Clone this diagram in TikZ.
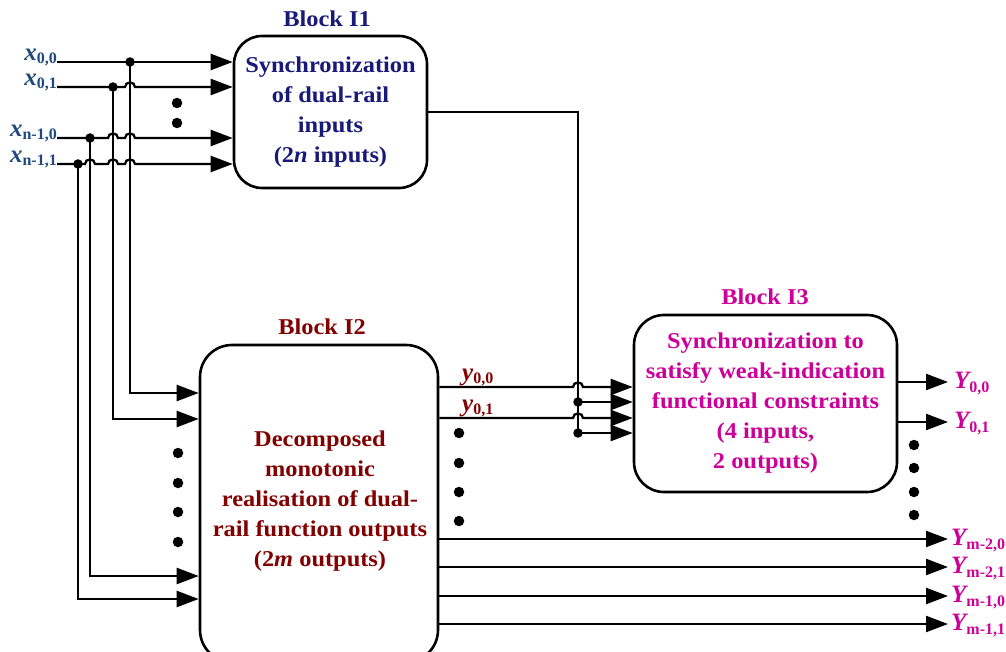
\documentclass[tikz,border=0pt]{standalone}
\usepackage{fontspec}
\setmainfont{Liberation Serif}
\newfontfamily\wide{Liberation Serif}[FakeStretch=1.08]
\usetikzlibrary{arrows.meta}
\definecolor{cI}{RGB}{25,25,120}
\definecolor{cII}{RGB}{130,0,0}
\definecolor{cIII}{RGB}{204,0,153}
\definecolor{cx}{RGB}{31,73,125}
\newcommand\sig[3]{{\fontsize{25}{25}\selectfont\bfseries\itshape #1}\raisebox{-#3}{\fontsize{16}{16}\selectfont\bfseries #2}}
\begin{document}
\begin{tikzpicture}[x=1pt,y=-1pt,
  wire/.style={line width=2.3pt},
  arr/.style={wire,-{Triangle[length=22pt,width=16pt]}},
  blk/.style={draw,line width=2.6pt,rounded corners=28pt,align=center,inner sep=0pt,
    font=\wide\fontsize{22.6}{30}\selectfont\bfseries},
  ttl/.style={font=\wide\fontsize{22.6}{26}\selectfont\bfseries},
  jdot/.style={circle,fill,inner sep=0pt,minimum size=9.5pt},
  edot/.style={circle,fill,inner sep=0pt,minimum size=10.5pt},
  lab/.style={inner sep=0pt}]
\useasboundingbox (0,0) rectangle (1006,652);
\clip (0,0) rectangle (1006,652);

% blocks
\node[blk,text=cI,minimum width=193pt,minimum height=152pt] (I1) at (330.5,112)
  {Synchronization\\of dual-rail\\inputs\\(2\textit{n} inputs)};
\node[ttl,text=cI] (T1) at (327,19) {Block I1};
\node[blk,minimum width=238pt,minimum height=317pt,rounded corners=32pt] (I2) at (319,503.5) {};
\node[align=center,text=cII,font=\wide\fontsize{22.6}{30}\selectfont\bfseries] (I2t) at (320,501)
  {Decomposed\\monotonic\\realisation of dual-\\rail function outputs\\(2\textit{m} outputs)};
\node[ttl,text=cII] (T2) at (322,327) {Block I2};
\node[blk,text=cIII,minimum width=263pt,minimum height=177pt,rounded corners=30pt] (I3) at (765.5,403.5)
  {Synchronization to\\satisfy weak-indication\\functional constraints\\(4 inputs,\\2 outputs)};
\node[ttl,text=cIII] (T3) at (765,297) {Block I3};

% input labels
\node[lab,text=cx,anchor=base east] (x00) at (57,61) {\sig{x}{0,0}{3pt}};
\node[lab,text=cx,anchor=base east] (x01) at (57,86) {\sig{x}{0,1}{3pt}};
\node[lab,text=cx,anchor=base east] (x10) at (57,137) {\sig{x}{n-1,0}{3pt}};
\node[lab,text=cx,anchor=base east] (x11) at (57,163) {\sig{x}{n-1,1}{3pt}};

% junctions
\coordinate (d00) at (130,62);
\coordinate (d01) at (113,87);
\coordinate (d10) at (90,138);
\coordinate (d11) at (78,164);

% horizontal inputs to I1
\draw[arr] (x00.east |- d00) -- (I1.west |- d00);
\draw[arr] (x01.east |- d01) -- (d01) -- (125,87) .. controls (125,81) and (135,81) .. (135,87) -- (I1.west |- d01);
\draw[arr] (x10.east |- d10) -- (d10) -- (108,138) .. controls (108,132) and (118,132) .. (118,138)
  -- (125,138) .. controls (125,132) and (135,132) .. (135,138) -- (I1.west |- d10);
\draw[arr] (x11.east |- d11) -- (d11) -- (85,164) .. controls (85,158) and (95,158) .. (95,164)
  -- (108,164) .. controls (108,158) and (118,158) .. (118,164)
  -- (125,164) .. controls (125,158) and (135,158) .. (135,164) -- (I1.west |- d11);

% verticals to I2
\draw[arr] (d00) |- (I2.west |- 0,393);
\draw[arr] (d01) |- (I2.west |- 0,419);
\draw[arr] (d10) |- (I2.west |- 0,576);
\draw[arr] (d11) |- (I2.west |- 0,599);
\foreach \p in {d00,d01,d10,d11} \node[jdot] at (\p) {};

% ellipsis dots
\foreach \y in {103,123} \node[edot] at (177,\y) {};
\foreach \y in {453,483,512,542} \node[edot] at (178,\y) {};
\foreach \y in {433,463,492,521} \node[edot] at (459,\y) {};
\foreach \y in {445,468,492,515} \node[edot] at (914,\y) {};

% I1 output to I3
\coordinate (b1) at (578,402);
\coordinate (b2) at (578,433);
\draw[wire] (I1.east) -- (I1.east -| b1) -- (b2);
\draw[arr] (b1) -- (I3.west |- b1);
\draw[arr] (b2) -- (I3.west |- b2);
\node[jdot] at (b1) {};
\node[jdot] at (b2) {};

% I2 outputs to I3
\draw[arr] (I2.east |- 0,387) -- (573,387) .. controls (573,381) and (583,381) .. (583,387) -- (I3.west |- 0,387);
\draw[arr] (I2.east |- 0,418) -- (573,418) .. controls (573,412) and (583,412) .. (583,418) -- (I3.west |- 0,418);
\node[lab,text=cII,anchor=base west] (y00) at (462,380) {\sig{y}{0,0}{3pt}};
\node[lab,text=cII,anchor=base west] (y01) at (462,411) {\sig{y}{0,1}{3pt}};

% I3 outputs
\coordinate (o1) at (948,382);
\coordinate (o2) at (948,422);
\draw[arr] (I3.east |- o1) -- (o1);
\draw[arr] (I3.east |- o2) -- (o2);
\node[lab,text=cIII,anchor=base west] (Y00) at (954,388) {\sig{Y}{0,0}{4pt}};
\node[lab,text=cIII,anchor=base west] (Y01) at (954,428) {\sig{Y}{0,1}{4pt}};

% I2 direct outputs
\coordinate (o3) at (948,539);
\coordinate (o4) at (948,567);
\coordinate (o5) at (948,596);
\coordinate (o6) at (948,624);
\draw[arr] (I2.east |- o3) -- (o3);
\draw[arr] (I2.east |- o4) -- (o4);
\draw[arr] (I2.east |- o5) -- (o5);
\draw[arr] (I2.east |- o6) -- (o6);
\node[lab,text=cIII,anchor=base west] (Y20) at (951,545) {\sig{Y}{m-2,0}{4pt}};
\node[lab,text=cIII,anchor=base west] (Y21) at (951,573) {\sig{Y}{m-2,1}{4pt}};
\node[lab,text=cIII,anchor=base west] (Y10) at (951,602) {\sig{Y}{m-1,0}{4pt}};
\node[lab,text=cIII,anchor=base west] (Y11) at (951,630) {\sig{Y}{m-1,1}{4pt}};
\end{tikzpicture}
\end{document}
